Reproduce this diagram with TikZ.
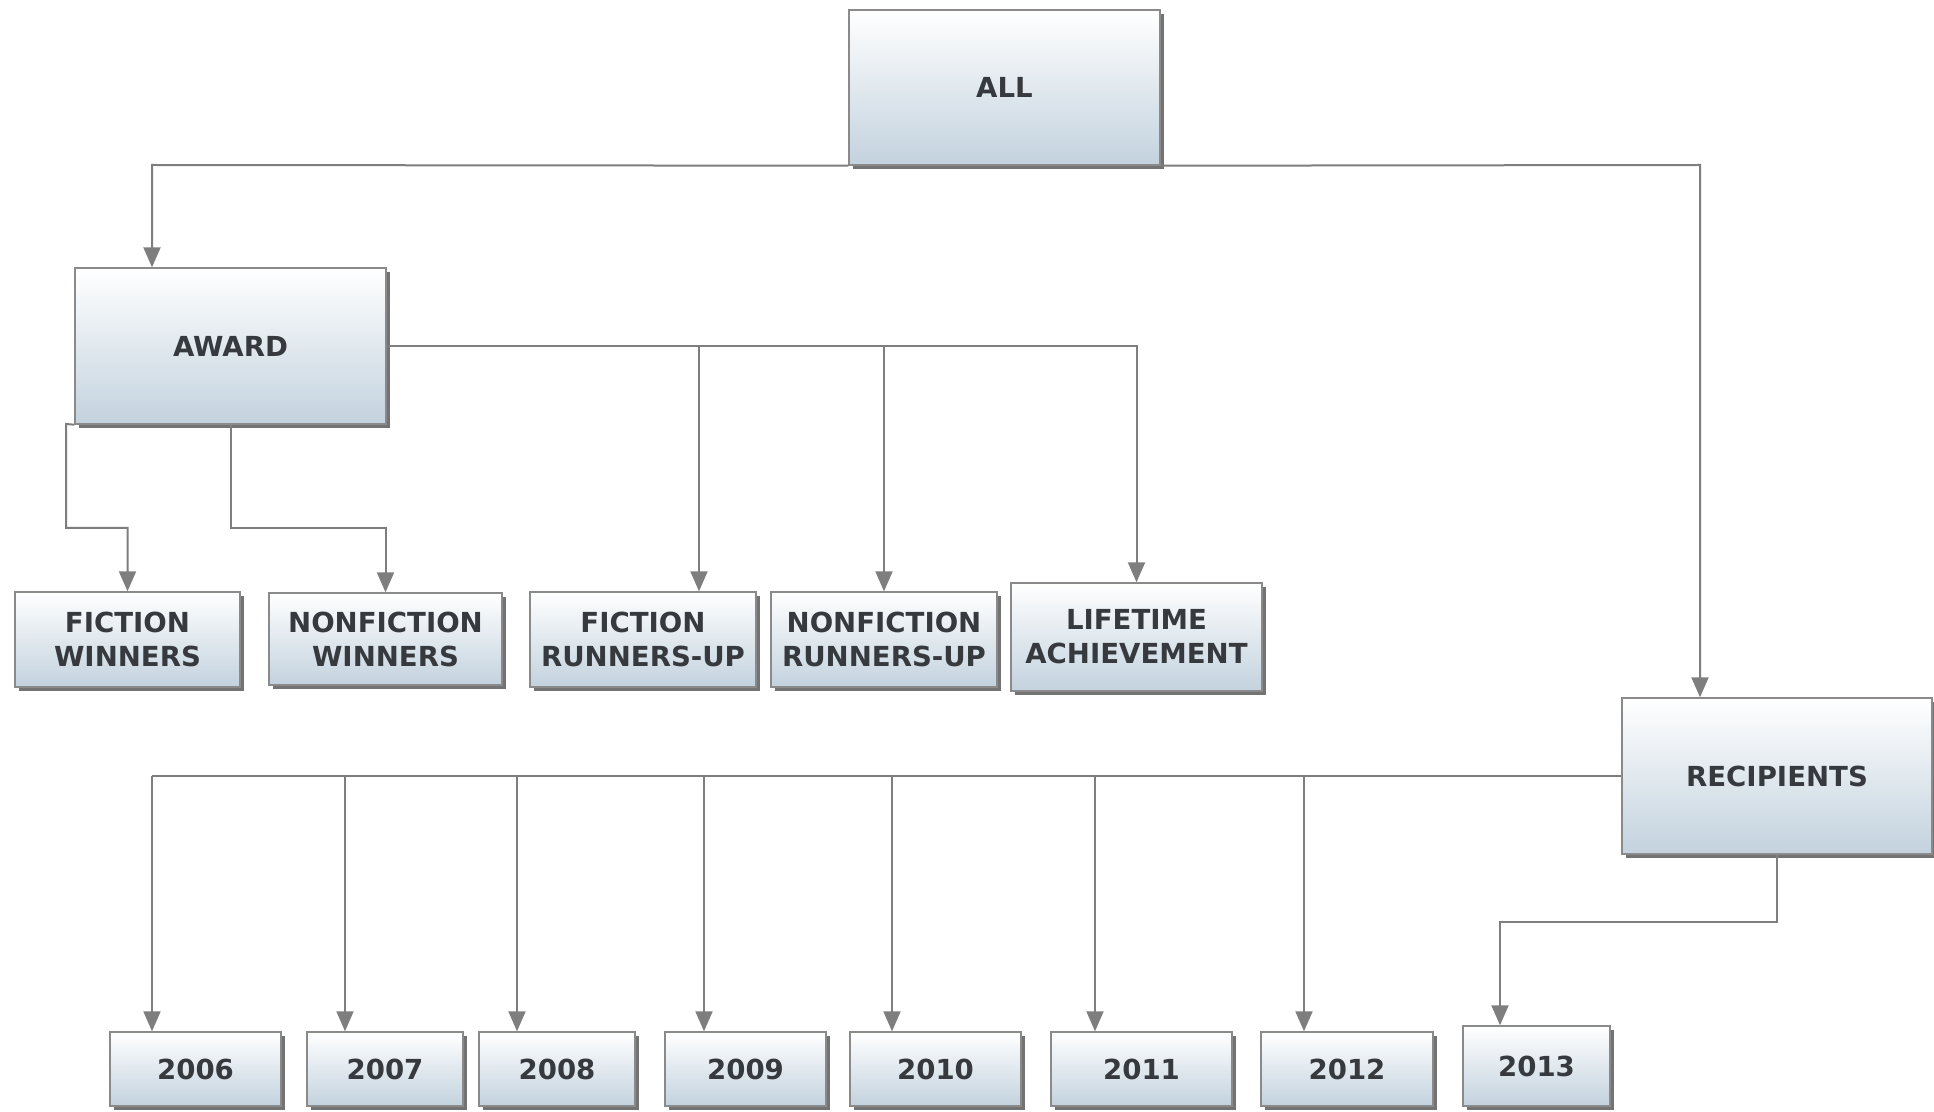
\documentclass[tikz,border=0pt]{standalone}
\usepackage{fontspec}
\setmainfont{DejaVu Sans}
\usetikzlibrary{arrows.meta,shadows}
\definecolor{boxbot}{HTML}{C3D2DE}
\definecolor{boxline}{HTML}{8A8A8A}
\definecolor{linegray}{HTML}{7E7E7E}
\definecolor{txt}{HTML}{363A3E}
\begin{document}
\begin{tikzpicture}[x=0.5pt,y=-0.5pt,
  box/.style={draw=boxline, line width=0.7pt, top color=white, bottom color=boxbot,
    drop shadow={shadow xshift=2pt,shadow yshift=-2pt,fill=black,opacity=0.55},
    text=txt, font=\fontsize{13.8}{17}\selectfont\bfseries, align=center, inner sep=0pt},
  conn/.style={draw=linegray, line width=1pt},
  arr/.style={conn, -{Triangle[width=8.5pt,length=10pt]}, linegray}]
\useasboundingbox (0,0) rectangle (1934,1112);
\fill[white] (0,0) rectangle (1934,1112);

% nodes
\node[box, minimum width=155.5pt, minimum height=77.5pt] (all) at (1004.5,87.5) {ALL};
\node[box, minimum width=155.5pt, minimum height=78pt] (award) at (230.5,346) {AWARD};
\node[box, minimum width=112.5pt, minimum height=47.5pt] (fw) at (127.5,639.5) {FICTION\\WINNERS};
\node[box, minimum width=116.5pt, minimum height=46pt] (nw) at (385.5,639) {NONFICTION\\WINNERS};
\node[box, minimum width=113pt, minimum height=47.5pt] (fr) at (643,639.5) {FICTION\\RUNNERS-UP};
\node[box, minimum width=113pt, minimum height=47.5pt] (nr) at (884,639.5) {NONFICTION\\RUNNERS-UP};
\node[box, minimum width=125.5pt, minimum height=54pt] (la) at (1136.5,637) {LIFETIME\\ACHIEVEMENT};
\node[box, minimum width=155pt, minimum height=78pt] (rec) at (1777,776) {RECIPIENTS};

\node[box, minimum width=85.5pt, minimum height=37pt] (y2006) at (195.5,1069) {2006};
\node[box, minimum width=78pt, minimum height=37pt] (y2007) at (385,1069) {2007};
\node[box, minimum width=78pt, minimum height=37pt] (y2008) at (557,1069) {2008};
\node[box, minimum width=80.5pt, minimum height=37pt] (y2009) at (745.5,1069) {2009};
\node[box, minimum width=85.5pt, minimum height=37pt] (y2010) at (935.5,1069) {2010};
\node[box, minimum width=90.5pt, minimum height=37pt] (y2011) at (1141.5,1069) {2011};
\node[box, minimum width=86pt, minimum height=37pt] (y2012) at (1347,1069) {2012};
\node[box, minimum width=73.5pt, minimum height=40pt] (y2013) at (1536.5,1066) {2013};

% ALL connectors
\coordinate (a1) at (152,165);
\coordinate (a2) at (1700,165);
\draw[arr] (all.south west) -- (a1) -- (a1 |- award.north);
\draw[arr] (all.south east) -- (a2) -- (a2 |- rec.north);

% AWARD connectors
\coordinate (b1) at (699,346);
\coordinate (b2) at (884,346);
\draw[arr] (award.east) -| (la.north);
\draw[arr] (b1) -- (b1 |- fr.north);
\draw[arr] (b2) -- (nr.north);
\coordinate (c1) at (66,424);
\coordinate (c2) at (66,528);
\coordinate (c3) at (230.5,528);
\draw[arr] (award.south west) -- (c1) -- (c2) -| (fw.north);
\draw[arr] (award.south) -- (c3) -| (nw.north);

% RECIPIENTS connectors
\coordinate (r6) at (152,776);
\coordinate (r7) at (345,776);
\coordinate (r8) at (517,776);
\coordinate (r9) at (704,776);
\coordinate (r10) at (892,776);
\coordinate (r11) at (1095,776);
\coordinate (r12) at (1304,776);
\draw[conn] (rec.west) -- (r6);
\draw[arr] (r6) -- (r6 |- y2006.north);
\draw[arr] (r7) -- (r7 |- y2007.north);
\draw[arr] (r8) -- (r8 |- y2008.north);
\draw[arr] (r9) -- (r9 |- y2009.north);
\draw[arr] (r10) -- (r10 |- y2010.north);
\draw[arr] (r11) -- (r11 |- y2011.north);
\draw[arr] (r12) -- (r12 |- y2012.north);
\coordinate (d1) at (1500,922);
\draw[arr] (rec.south) |- (d1) -- (d1 |- y2013.north);
\end{tikzpicture}
\end{document}
